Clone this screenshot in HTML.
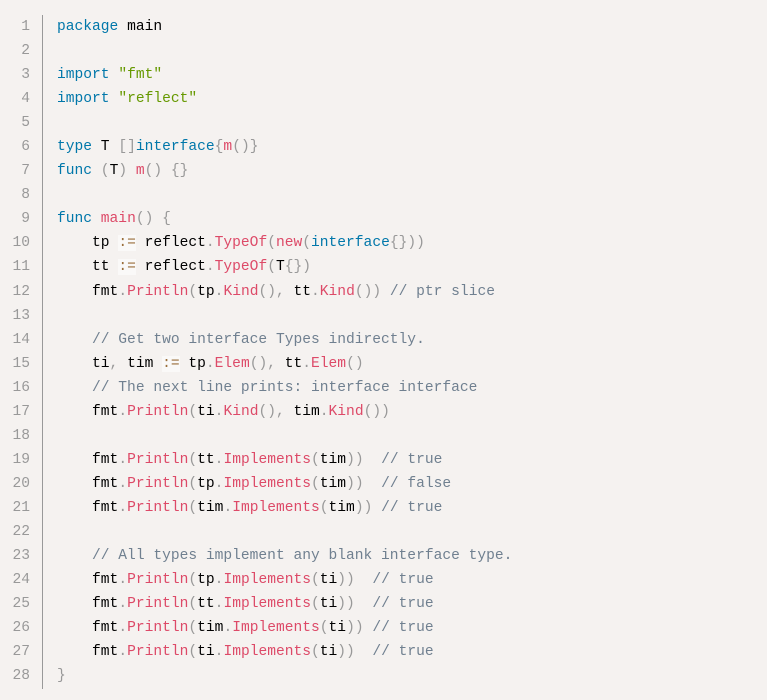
<!DOCTYPE html>
<html><head><meta charset="utf-8"><style>
html,body{margin:0;padding:0;background:#f5f2f0;width:767px;height:700px;overflow:hidden}
.wrap{position:relative;width:767px;height:700px;background:#f5f2f0}
.ln{position:absolute;left:0;top:15px;width:30px;text-align:right;color:#999;font:14.6px/24.04px "Liberation Mono",monospace}
.bar{position:absolute;left:42px;top:15px;width:1px;height:674px;background:#999}
pre{position:absolute;left:57px;top:15px;margin:0;font:14.6px/24.04px "Liberation Mono",monospace;color:#000;white-space:pre}
.k{color:#07a}.f{color:#DD4A68}.p{color:#999}.o{color:#9a6e3a;background:rgba(255,255,255,.5)}.s{color:#690}.c{color:slategray}
</style></head><body><div class="wrap">
<div class="ln">1<br>2<br>3<br>4<br>5<br>6<br>7<br>8<br>9<br>10<br>11<br>12<br>13<br>14<br>15<br>16<br>17<br>18<br>19<br>20<br>21<br>22<br>23<br>24<br>25<br>26<br>27<br>28</div>
<div class="bar"></div>
<pre><span class="k">package</span> main

<span class="k">import</span> <span class="s">"fmt"</span>
<span class="k">import</span> <span class="s">"reflect"</span>

<span class="k">type</span> T <span class="p">[]</span><span class="k">interface</span><span class="p">{</span><span class="f">m</span><span class="p">()}</span>
<span class="k">func</span> <span class="p">(</span>T<span class="p">)</span> <span class="f">m</span><span class="p">()</span> <span class="p">{}</span>

<span class="k">func</span> <span class="f">main</span><span class="p">()</span> <span class="p">{</span>
    tp <span class="o">:=</span> reflect<span class="p">.</span><span class="f">TypeOf</span><span class="p">(</span><span class="f">new</span><span class="p">(</span><span class="k">interface</span><span class="p">{}))</span>
    tt <span class="o">:=</span> reflect<span class="p">.</span><span class="f">TypeOf</span><span class="p">(</span>T<span class="p">{})</span>
    fmt<span class="p">.</span><span class="f">Println</span><span class="p">(</span>tp<span class="p">.</span><span class="f">Kind</span><span class="p">(),</span> tt<span class="p">.</span><span class="f">Kind</span><span class="p">())</span> <span class="c">// ptr slice</span>

    <span class="c">// Get two interface Types indirectly.</span>
    ti<span class="p">,</span> tim <span class="o">:=</span> tp<span class="p">.</span><span class="f">Elem</span><span class="p">(),</span> tt<span class="p">.</span><span class="f">Elem</span><span class="p">()</span>
    <span class="c">// The next line prints: interface interface</span>
    fmt<span class="p">.</span><span class="f">Println</span><span class="p">(</span>ti<span class="p">.</span><span class="f">Kind</span><span class="p">(),</span> tim<span class="p">.</span><span class="f">Kind</span><span class="p">())</span>

    fmt<span class="p">.</span><span class="f">Println</span><span class="p">(</span>tt<span class="p">.</span><span class="f">Implements</span><span class="p">(</span>tim<span class="p">))</span>  <span class="c">// true</span>
    fmt<span class="p">.</span><span class="f">Println</span><span class="p">(</span>tp<span class="p">.</span><span class="f">Implements</span><span class="p">(</span>tim<span class="p">))</span>  <span class="c">// false</span>
    fmt<span class="p">.</span><span class="f">Println</span><span class="p">(</span>tim<span class="p">.</span><span class="f">Implements</span><span class="p">(</span>tim<span class="p">))</span> <span class="c">// true</span>

    <span class="c">// All types implement any blank interface type.</span>
    fmt<span class="p">.</span><span class="f">Println</span><span class="p">(</span>tp<span class="p">.</span><span class="f">Implements</span><span class="p">(</span>ti<span class="p">))</span>  <span class="c">// true</span>
    fmt<span class="p">.</span><span class="f">Println</span><span class="p">(</span>tt<span class="p">.</span><span class="f">Implements</span><span class="p">(</span>ti<span class="p">))</span>  <span class="c">// true</span>
    fmt<span class="p">.</span><span class="f">Println</span><span class="p">(</span>tim<span class="p">.</span><span class="f">Implements</span><span class="p">(</span>ti<span class="p">))</span> <span class="c">// true</span>
    fmt<span class="p">.</span><span class="f">Println</span><span class="p">(</span>ti<span class="p">.</span><span class="f">Implements</span><span class="p">(</span>ti<span class="p">))</span>  <span class="c">// true</span>
<span class="p">}</span></pre>
</div></body></html>
